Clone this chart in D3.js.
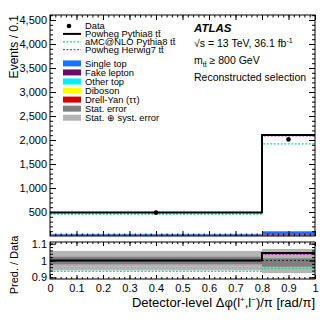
<!DOCTYPE html>
<html>
<head>
<meta charset="utf-8">
<script src="https://cdn.jsdelivr.net/npm/d3@7"></script>
<style>
  body { margin: 0; background: #fff; }
  svg text { font-family: "Liberation Sans", Arial, Helvetica, sans-serif; }
</style>
</head>
<body>
<div id="chart"></div>
<script>
// bins in Delta phi / pi
var binEdges = [0, 0.8, 1.0];
var binCentres = [0.4, 0.9];

// events / 0.1
var dataVals = [486, 2012];
var powhegPythia = [487, 2102];
var amcPythia = [454, 1918];
var powhegHerwig = [490, 2088];

// backgrounds (stacked, bottom first)
var bkgKeys = ["drellYan", "diboson", "otherTop", "fakeLepton", "singleTop"];
var drellYan = [9, 12];
var diboson = [1, 2];
var otherTop = [4, 8];
var fakeLepton = [16, 14];
var singleTop = [14, 62];

// ratio panel
var ratioPowheg = [1.0, 1.045];
var ratioAmc = [0.935, 0.953];
var ratioHerwig = [1.002, 1.037];
var statLo = [0.977, 0.963];
var statHi = [1.022, 1.013];
var systLo = [0.941, 0.925];
var systHi = [1.057, 1.069];

var yTopTicks = [500, 1000, 1500, 2000, 2500, 3000, 3500, 4000, 4500];
var yRatTicks = [0.9, 1, 1.1];
var xTicks = [0, 0.1, 0.2, 0.3, 0.4, 0.5, 0.6, 0.7, 0.8, 0.9, 1];

// legend: first block are lines/markers, second block are filled boxes
var legendLines = [
  { kind: "dot", label: "Data" },
  { kind: "line", color: "#000", dash: null, label: "Powheg Pythia8 tt\u0304" },
  { kind: "line", color: "#1fd39a", dash: "2,1.5", label: "aMC@NLO Pythia8 tt\u0304" },
  { kind: "line", color: "#b03cb0", dash: "2,1.5", label: "Powheg Herwig7 tt\u0304" }
];
var legendBoxes = [
  { color: "#1a73ff", label: "Single top" },
  { color: "#6a0a6a", label: "Fake lepton" },
  { color: "#00f0ff", label: "Other top" },
  { color: "#ffff00", label: "Diboson" },
  { color: "#d40000", label: "Drell-Yan (\u03c4\u03c4)" },
  { color: "#7f7f7f", label: "Stat. error" },
  { color: "#b4b4b4", label: "Stat. \u2295 syst. error" }
];

var bkgColors = {
  drellYan: "#d40000", diboson: "#ffff00", otherTop: "#00f0ff",
  fakeLepton: "#6a0a6a", singleTop: "#1a73ff"
};

var drawChart = function() {
  var width = 332, height = 322;
  var left = 50, right = 315;
  var topY0 = 15, topY1 = 236;
  var ratY0 = 242, ratY1 = 279;

  var svg = d3.select("#chart").append("svg")
    .attr("width", width).attr("height", height);

  var x = d3.scaleLinear().domain([0, 1]).range([left, right]);
  var yTop = d3.scaleLinear().domain([0, 4604]).range([topY1, topY0]);
  var yRat = d3.scaleLinear().domain([0.89, 1.11]).range([ratY1, ratY0]);

  var bins = binCentres.map(function(c, i) {
    return { i: i, x0: binEdges[i], x1: binEdges[i + 1],
      drellYan: drellYan[i], diboson: diboson[i], otherTop: otherTop[i],
      fakeLepton: fakeLepton[i], singleTop: singleTop[i] };
  });

  /* TOP PANEL ************************************************************/
  var top = svg.append("g");

  var stacked = d3.stack().keys(bkgKeys)(bins);
  top.selectAll(".bkg").data(stacked).enter().append("g")
    .attr("fill", function(d) { return bkgColors[d.key]; })
    .selectAll("rect").data(function(d) { return d; }).enter().append("rect")
    .attr("x", function(d) { return x(d.data.x0); })
    .attr("width", function(d) { return x(d.data.x1) - x(d.data.x0); })
    .attr("y", function(d) { return yTop(d[1]); })
    .attr("height", function(d) { return yTop(d[0]) - yTop(d[1]); });

  var stepPts = function(vals) {
    return [[binEdges[0], vals[0]], [binEdges[1], vals[1]], [binEdges[2], vals[1]]];
  };
  var stepTop = d3.line().curve(d3.curveStepAfter)
    .x(function(d) { return x(d[0]); }).y(function(d) { return yTop(d[1]); });

  top.append("path").attr("d", stepTop(stepPts(amcPythia)))
    .attr("fill", "none").attr("stroke", "#1fd39a").attr("stroke-width", 1.3)
    .attr("stroke-dasharray", "2,1.5");
  top.append("path").attr("d", stepTop(stepPts(powhegHerwig)))
    .attr("fill", "none").attr("stroke", "#b03cb0").attr("stroke-width", 1.3)
    .attr("stroke-dasharray", "2,1.5");
  top.append("path").attr("d", stepTop(stepPts(powhegPythia)))
    .attr("fill", "none").attr("stroke", "#000").attr("stroke-width", 2);

  top.selectAll(".pt").data(binCentres).enter().append("circle")
    .attr("cx", function(d) { return x(d); })
    .attr("cy", function(d, i) { return yTop(dataVals[i]); })
    .attr("r", 2.3).attr("fill", "#000");

  // axes of the top panel
  var minorY = d3.range(100, 4601, 100);
  var minorX = d3.range(0, 1.0001, 0.02);
  top.append("g").attr("transform", "translate(" + left + ",0)")
    .call(d3.axisLeft(yTop).tickValues(yTopTicks).tickSize(-6).tickPadding(3))
    .call(styleAxis).selectAll("text").attr("font-size", 11);
  top.append("g").attr("transform", "translate(" + left + ",0)")
    .call(d3.axisLeft(yTop).tickValues(minorY).tickSize(-3).tickFormat(""))
    .call(styleAxis);
  top.append("g").attr("transform", "translate(" + right + ",0)")
    .call(d3.axisRight(yTop).tickValues(yTopTicks).tickSize(-6).tickFormat(""))
    .call(styleAxis);
  top.append("g").attr("transform", "translate(" + right + ",0)")
    .call(d3.axisRight(yTop).tickValues(minorY).tickSize(-3).tickFormat(""))
    .call(styleAxis);
  [[topY1, d3.axisBottom], [topY0, d3.axisTop]].forEach(function(a) {
    top.append("g").attr("transform", "translate(0," + a[0] + ")")
      .call(a[1](x).tickValues(xTicks).tickSize(-5).tickFormat(""))
      .call(styleAxis);
    top.append("g").attr("transform", "translate(0," + a[0] + ")")
      .call(a[1](x).tickValues(minorX).tickSize(-2.5).tickFormat(""))
      .call(styleAxis);
  });
  top.append("rect").attr("x", left).attr("y", topY0)
    .attr("width", right - left).attr("height", topY1 - topY0)
    .attr("fill", "none").attr("stroke", "#000").attr("stroke-width", 1);

  top.append("text").attr("transform", "translate(18," + topY0 + ") rotate(-90)")
    .attr("text-anchor", "end").attr("font-size", 12).text("Events / 0.1");

  // legend
  var leg = top.append("g").attr("font-size", 9.4);
  legendLines.forEach(function(it, i) {
    var cy = 26 + i * 7.9;
    if (it.kind === "dot") {
      leg.append("circle").attr("cx", 69).attr("cy", cy).attr("r", 2.3).attr("fill", "#000");
    } else {
      leg.append("line").attr("x1", 63).attr("x2", 81).attr("y1", cy).attr("y2", cy)
        .attr("stroke", it.color).attr("stroke-width", it.dash ? 1.3 : 2)
        .attr("stroke-dasharray", it.dash);
    }
    leg.append("text").attr("x", 85).attr("y", cy + 3.3).text(it.label);
  });
  legendBoxes.forEach(function(it, i) {
    var cy = 63.4 + i * 9.05;
    leg.append("rect").attr("x", 63).attr("y", cy - 3).attr("width", 18).attr("height", 6)
      .attr("fill", it.color);
    leg.append("text").attr("x", 85).attr("y", cy + 3.4).text(it.label);
  });

  // ATLAS label
  var lab = top.append("g").attr("font-size", 10.5);
  lab.append("text").attr("x", 194).attr("y", 32).attr("font-weight", "bold")
    .attr("font-style", "italic").attr("font-size", 11.5).text("ATLAS");
  var t2 = lab.append("text").attr("x", 194).attr("y", 47);
  t2.append("tspan").text("\u221as = 13 TeV, 36.1 fb");
  t2.append("tspan").attr("font-size", 7).attr("dy", -4).text("-1");
  var t3 = lab.append("text").attr("x", 194).attr("y", 64);
  t3.append("tspan").text("m");
  t3.append("tspan").attr("font-size", 7).attr("dy", 3).text("tt\u0304");
  t3.append("tspan").attr("dy", -3).text(" \u2265 800 GeV");
  lab.append("text").attr("x", 194).attr("y", 81).text("Reconstructed selection");

  /* RATIO PANEL **********************************************************/
  var rat = svg.append("g");
  var bandRect = function(lo, hi, color) {
    rat.selectAll(null).data(bins).enter().append("rect")
      .attr("x", function(d) { return x(d.x0); })
      .attr("width", function(d) { return x(d.x1) - x(d.x0); })
      .attr("y", function(d) { return yRat(hi[d.i]); })
      .attr("height", function(d) { return yRat(lo[d.i]) - yRat(hi[d.i]); })
      .attr("fill", color);
  };
  bandRect(systLo, systHi, "#b4b4b4");
  bandRect(statLo, statHi, "#7f7f7f");

  rat.append("line").attr("x1", left).attr("x2", right)
    .attr("y1", yRat(1)).attr("y2", yRat(1))
    .attr("stroke", "#222").attr("stroke-width", 1.2).attr("stroke-dasharray", "2,2");

  var stepRat = d3.line().curve(d3.curveStepAfter)
    .x(function(d) { return x(d[0]); }).y(function(d) { return yRat(d[1]); });
  rat.append("path").attr("d", stepRat(stepPts(ratioAmc)))
    .attr("fill", "none").attr("stroke", "#1fd39a").attr("stroke-width", 1.3)
    .attr("stroke-dasharray", "2,1.5");
  rat.append("path").attr("d", stepRat(stepPts(ratioHerwig)))
    .attr("fill", "none").attr("stroke", "#b03cb0").attr("stroke-width", 1.3)
    .attr("stroke-dasharray", "2,1.5");
  rat.append("path").attr("d", stepRat(stepPts(ratioPowheg)))
    .attr("fill", "none").attr("stroke", "#000").attr("stroke-width", 2);

  var minorR = d3.range(0.9, 1.1001, 0.02);
  rat.append("g").attr("transform", "translate(" + left + ",0)")
    .call(d3.axisLeft(yRat).tickValues(yRatTicks).tickSize(-6).tickPadding(3)
      .tickFormat(d3.format("")))
    .call(styleAxis).selectAll("text").attr("font-size", 11);
  rat.append("g").attr("transform", "translate(" + left + ",0)")
    .call(d3.axisLeft(yRat).tickValues(minorR).tickSize(-3).tickFormat(""))
    .call(styleAxis);
  rat.append("g").attr("transform", "translate(" + right + ",0)")
    .call(d3.axisRight(yRat).tickValues(yRatTicks).tickSize(-6).tickFormat(""))
    .call(styleAxis);
  rat.append("g").attr("transform", "translate(" + right + ",0)")
    .call(d3.axisRight(yRat).tickValues(minorR).tickSize(-3).tickFormat(""))
    .call(styleAxis);
  rat.append("g").attr("transform", "translate(0," + ratY1 + ")")
    .call(d3.axisBottom(x).tickValues(xTicks).tickSize(-4).tickPadding(5)
      .tickFormat(d3.format("")))
    .call(styleAxis).selectAll("text").attr("font-size", 11);
  rat.append("g").attr("transform", "translate(0," + ratY1 + ")")
    .call(d3.axisBottom(x).tickValues(minorX).tickSize(-2).tickFormat(""))
    .call(styleAxis);
  rat.append("g").attr("transform", "translate(0," + ratY0 + ")")
    .call(d3.axisTop(x).tickValues(xTicks).tickSize(-4).tickFormat(""))
    .call(styleAxis);
  rat.append("g").attr("transform", "translate(0," + ratY0 + ")")
    .call(d3.axisTop(x).tickValues(minorX).tickSize(-2).tickFormat(""))
    .call(styleAxis);
  rat.append("rect").attr("x", left).attr("y", ratY0)
    .attr("width", right - left).attr("height", ratY1 - ratY0)
    .attr("fill", "none").attr("stroke", "#000").attr("stroke-width", 1);

  rat.append("text").attr("transform", "translate(18,265) rotate(-90)")
    .attr("text-anchor", "middle").attr("font-size", 11).text("Pred. / Data");

  var xt = svg.append("text").attr("x", right).attr("y", 307)
    .attr("text-anchor", "end").attr("font-size", 13);
  xt.append("tspan").text("Detector-level \u0394\u03c6(l");
  xt.append("tspan").attr("font-size", 8).attr("dy", -5).text("+");
  xt.append("tspan").attr("dy", 5).text(",l");
  xt.append("tspan").attr("font-size", 8).attr("dy", -5).text("\u2212");
  xt.append("tspan").attr("dy", 5).text(")/\u03c0 [rad/\u03c0]");

  function styleAxis(g) {
    g.select(".domain").remove();
    g.selectAll("line").attr("stroke", "#000");
    g.selectAll("text").attr("fill", "#000")
      .style("font-family", "'Liberation Sans', Arial, Helvetica, sans-serif");
  }
};

window.addEventListener("load", drawChart);
</script>
</body>
</html>
